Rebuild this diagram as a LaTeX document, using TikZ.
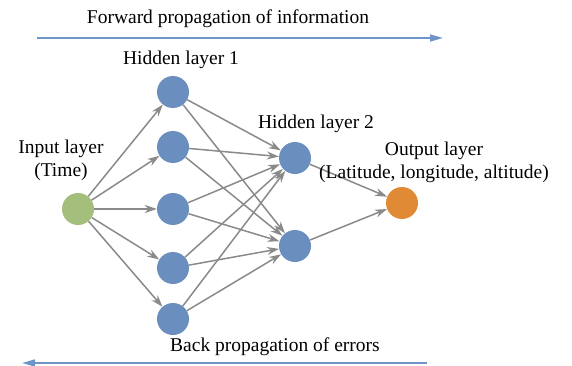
\documentclass[tikz,border=0pt]{standalone}
\usepackage{fontspec}
\setmainfont{Liberation Serif}
\usetikzlibrary{arrows.meta}
\definecolor{nblue}{HTML}{6A8EBE}
\definecolor{ngreen}{HTML}{A4BE7C}
\definecolor{norange}{HTML}{E08A35}
\definecolor{lblue}{HTML}{6F94C8}
\definecolor{egray}{HTML}{8A8A8A}
\begin{document}
\begin{tikzpicture}[x=1pt,y=-1pt,
  neuron/.style={circle,minimum size=32pt,inner sep=0pt},
  conn/.style={draw=egray,line width=1.5pt,-{Stealth[length=12pt,width=8pt]}},
  flow/.style={draw=lblue,line width=1.6pt,-{Triangle[length=13pt,width=7pt]}},
  lbl/.style={font=\fontsize{19.5}{23}\selectfont,inner sep=0pt}]
\useasboundingbox (0,0) rectangle (572,366);
\node[neuron,fill=ngreen] (in) at (78,209) {};
\foreach \i/\y in {1/92,2/147,3/209,4/268,5/319}
  \node[neuron,fill=nblue] (h\i) at (173,\y) {};
\node[neuron,fill=nblue] (g1) at (295,158) {};
\node[neuron,fill=nblue] (g2) at (295,246) {};
\node[neuron,fill=norange] (out) at (402,203) {};
\foreach \i in {1,...,5} {
  \draw[conn] (in) -- (h\i);
  \draw[conn] (h\i) -- (g1);
  \draw[conn] (h\i) -- (g2);
}
\draw[conn] (g1) -- (out);
\draw[conn] (g2) -- (out);
\node[lbl] (tf) at (228,19) {Forward propagation of information};
\coordinate (fa) at (37,38);
\coordinate (fb) at (443,38);
\draw[flow] (fa) -- (fb);
\node[lbl] (tb) at (275,347) {Back propagation of errors};
\coordinate (ba) at (427,363);
\coordinate (bb) at (22,363);
\draw[flow] (ba) -- (bb);
\node[lbl] (l1) at (181,60) {Hidden layer 1};
\node[lbl] (l2) at (316,124) {Hidden layer 2};
\node[lbl,align=center] (li) at (61,160) {Input layer\\(Time)};
\node[lbl,align=center] (lo) at (434,162) {Output layer\\(Latitude, longitude, altitude)};
\end{tikzpicture}
\end{document}
